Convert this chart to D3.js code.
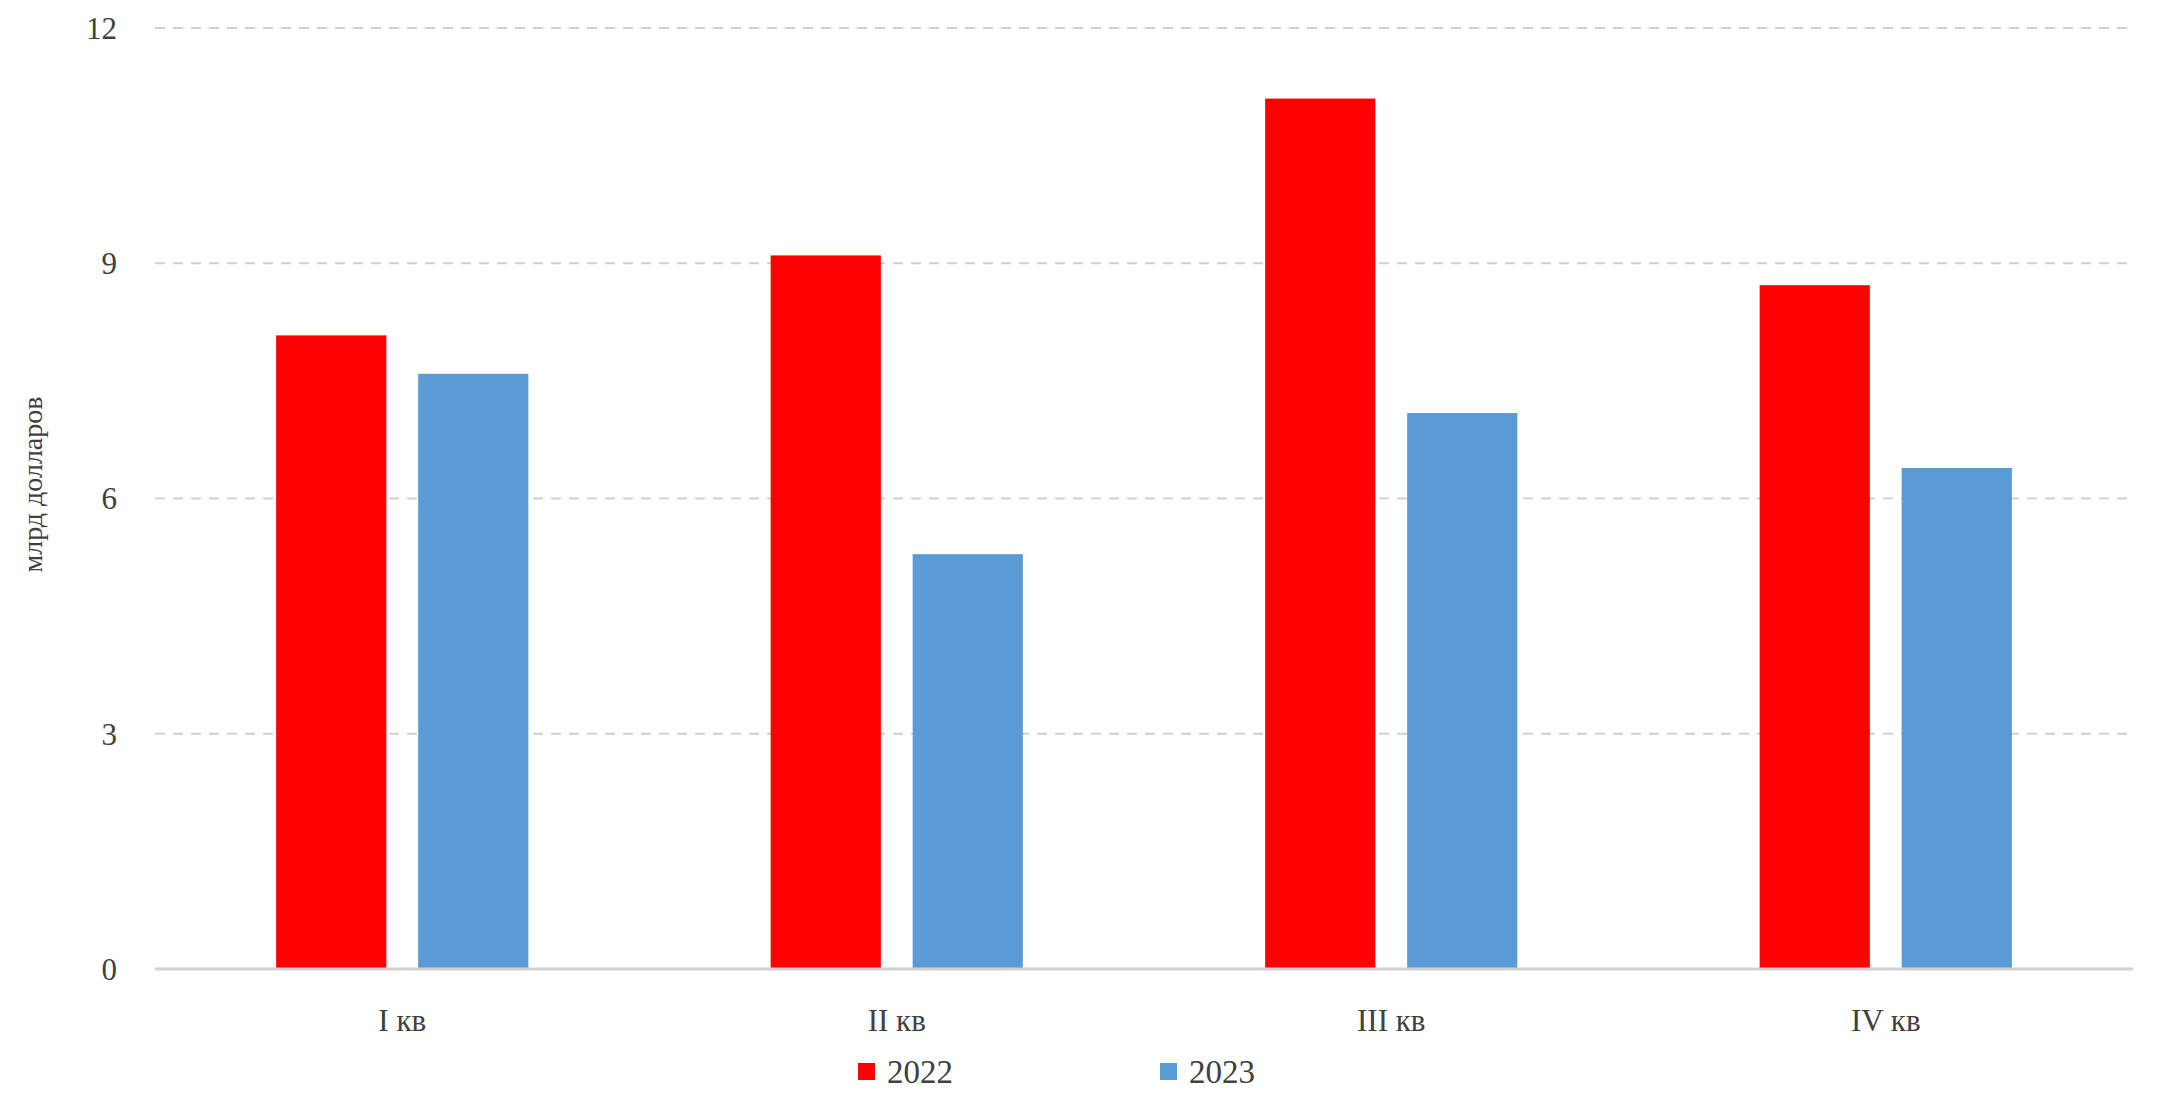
<!DOCTYPE html>
<html><head><meta charset="utf-8">
<script src="https://cdn.jsdelivr.net/npm/d3@7"></script>
<style>body{margin:0;background:#fff;} text{font-family:"Liberation Serif","DejaVu Serif",serif;fill:#404040;}</style>
</head><body><div id="plot"></div>
<script>
const quarters = ['I кв', 'II кв', 'III кв', 'IV кв'];
const series = ['2022', '2023'];
const values2022 = [8.08, 9.1, 11.1, 8.72];
const values2023 = [7.59, 5.29, 7.09, 6.39];
const yTicks = [0, 3, 6, 9, 12];
const colors = ['#ff0000', '#5b9bd5'];

const W = 2160, H = 1113;
const margin = { top: 28, right: 27, bottom: 144, left: 155 };
const width = W - margin.left - margin.right;
const height = H - margin.top - margin.bottom;

const svg = d3.select('#plot').append('svg').attr('width', W).attr('height', H);
const g = svg.append('g').attr('transform', `translate(${margin.left},${margin.top})`);

const y = d3.scaleLinear().domain([0, 12]).range([height, 0]);
const x0 = d3.scaleBand().domain(quarters).range([0, width]).paddingInner(0.49).paddingOuter(0.245);
const x1 = d3.scaleBand().domain(series).range([0, x0.bandwidth()]).paddingInner(0.224);

// grid
g.append('g').selectAll('line').data(yTicks.filter((t) => t > 0)).enter().append('line')
  .attr('x1', 0).attr('x2', width).attr('y1', (d) => y(d)).attr('y2', (d) => y(d))
  .attr('stroke', '#d0d0d0').attr('stroke-width', 2).attr('stroke-dasharray', '10,8');

// y tick labels
g.append('g').selectAll('text').data(yTicks).enter().append('text')
  .attr('x', -38).attr('y', (d) => y(d)).attr('dy', '0.35em').attr('text-anchor', 'end')
  .style('font-size', '31px').text((d) => d);

// bars
const data = quarters.map((q, i) => ({ q, vals: [values2022[i], values2023[i]] }));
const grp = g.selectAll('.grp').data(data).enter().append('g').attr('transform', (d) => `translate(${x0(d.q)},0)`);
grp.selectAll('rect').data((d) => d.vals.map((v, j) => ({ s: series[j], v, j }))).enter().append('rect')
  .attr('x', (d) => x1(d.s)).attr('width', x1.bandwidth())
  .attr('y', (d) => y(d.v)).attr('height', (d) => height - y(d.v))
  .attr('fill', (d) => colors[d.j]);

// baseline
g.append('line').attr('x1', 0).attr('x2', width).attr('y1', height).attr('y2', height).attr('stroke', '#d0d0d0').attr('stroke-width', 3);

// category labels
g.append('g').selectAll('text').data(quarters).enter().append('text')
  .attr('x', (d) => x0(d) + x0.bandwidth() / 2).attr('y', height + 62).attr('text-anchor', 'middle')
  .style('font-size', '31px').text((d) => d);

// y label
svg.append('text').attr('transform', `translate(42,${margin.top + height / 2 - 14}) rotate(-90)`)
  .attr('text-anchor', 'middle').style('font-size', '28px').text('млрд долларов');

// legend
const legendX = [858, 1160];
const lg = svg.append('g').selectAll('g').data(series).enter().append('g').attr('transform', (d, i) => `translate(${legendX[i]},${H - 30})`);
lg.append('rect').attr('x', 0).attr('y', -20).attr('width', 17).attr('height', 17).attr('fill', (d, i) => colors[i]);
lg.append('text').attr('x', 29).attr('y', 0).style('font-size', '33px').text((d) => d);
</script></body></html>
